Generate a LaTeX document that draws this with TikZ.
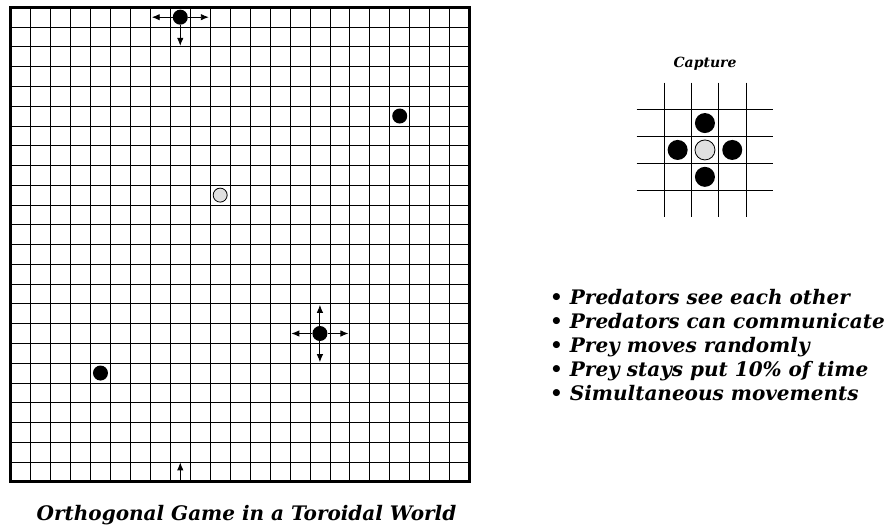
\documentclass[tikz,border=0pt]{standalone}
\usepackage{tikz}
\usepackage{fontspec}
\usetikzlibrary{arrows.meta}
\newfontfamily\labelfont{DejaVu Serif}

\tikzset{
  gridline/.style={line width=0.8pt, black},
  pred/.style={circle, fill=black, inner sep=0pt, minimum size=15pt},
  prey/.style={circle, draw=black, fill=black!12, line width=0.8pt, inner sep=0pt, minimum size=14pt},
  move/.style={-{Latex[length=8pt,width=6.5pt]}, line width=0.9pt},
  lbl/.style={font=\labelfont\fontsize{20}{24}\selectfont\bfseries\itshape, inner sep=0pt},
}

\begin{document}
\begin{tikzpicture}[x=1pt,y=-1pt]
\useasboundingbox (0,0) rectangle (887,527);

% toroidal world, 23 x 24 cells
\begin{scope}[shift={(10.7,7.3)}, x=19.95pt, y=-19.77pt]
\foreach \i in {1,...,22} \draw[gridline] (\i,0) -- (\i,24);
\foreach \j in {1,...,23} \draw[gridline] (0,\j) -- (23,\j);
\draw[line width=2.6pt] (0,0) rectangle (23,24);

% predators and prey
\node[pred] (hunterA) at (8.5,0.5) {};
\node[pred] (hunterB) at (19.5,5.5) {};
\node[pred] (hunterC) at (15.5,16.5) {};
\node[pred] (hunterD) at (4.5,18.5) {};
\node[prey] (target) at (10.5,9.5) {};

% moves of the top predator (up wraps round to the bottom)
\coordinate (aW) at (7.07,0.5);
\coordinate (aE) at (9.93,0.5);
\coordinate (aS) at (8.5,1.95);
\coordinate (wrapFrom) at (8.5,24);
\coordinate (wrapTo) at (8.5,23.02);
\draw[move] (hunterA) -- (aW);
\draw[move] (hunterA) -- (aE);
\draw[move] (hunterA) -- (aS);
\draw[move] (wrapFrom) -- (wrapTo);

% moves of the lower predator
\coordinate (cW) at (14.07,16.5);
\coordinate (cE) at (16.93,16.5);
\coordinate (cN) at (15.5,15.05);
\coordinate (cS) at (15.5,17.95);
\draw[move] (hunterC) -- (cW);
\draw[move] (hunterC) -- (cE);
\draw[move] (hunterC) -- (cN);
\draw[move] (hunterC) -- (cS);
\end{scope}

% capture
\node[lbl, font=\labelfont\fontsize{14}{17}\selectfont\bfseries\itshape, anchor=base] (captitle) at (705,68) {Capture};
\begin{scope}[shift={(636.7,82.7)}, x=27.3pt, y=-26.9pt]
\foreach \i in {1,...,4} \draw[gridline] (\i,0) -- (\i,5);
\foreach \j in {1,...,4} \draw[gridline] (0,\j) -- (5,\j);
\node[pred, minimum size=20pt] (capN) at (2.5,1.5) {};
\node[pred, minimum size=20pt] (capW) at (1.5,2.5) {};
\node[pred, minimum size=20pt] (capE) at (3.5,2.5) {};
\node[pred, minimum size=20pt] (capS) at (2.5,3.5) {};
\node[prey, minimum size=20pt] (capPrey) at (2.5,2.5) {};
\end{scope}

% rules of the game
\foreach \txt [count=\k] in {Predators see each other, Predators can communicate, Prey moves randomly, Prey stays put 10\% of time, Simultaneous movements}
  \node[lbl, anchor=base west] (rule\k) at (550,{304+24.2*(\k-1)}) {\textbullet\ \txt};

% caption
\node[lbl, anchor=base] (caption) at (246.5,520.7) {Orthogonal Game in a Toroidal World};
\end{tikzpicture}
\end{document}
